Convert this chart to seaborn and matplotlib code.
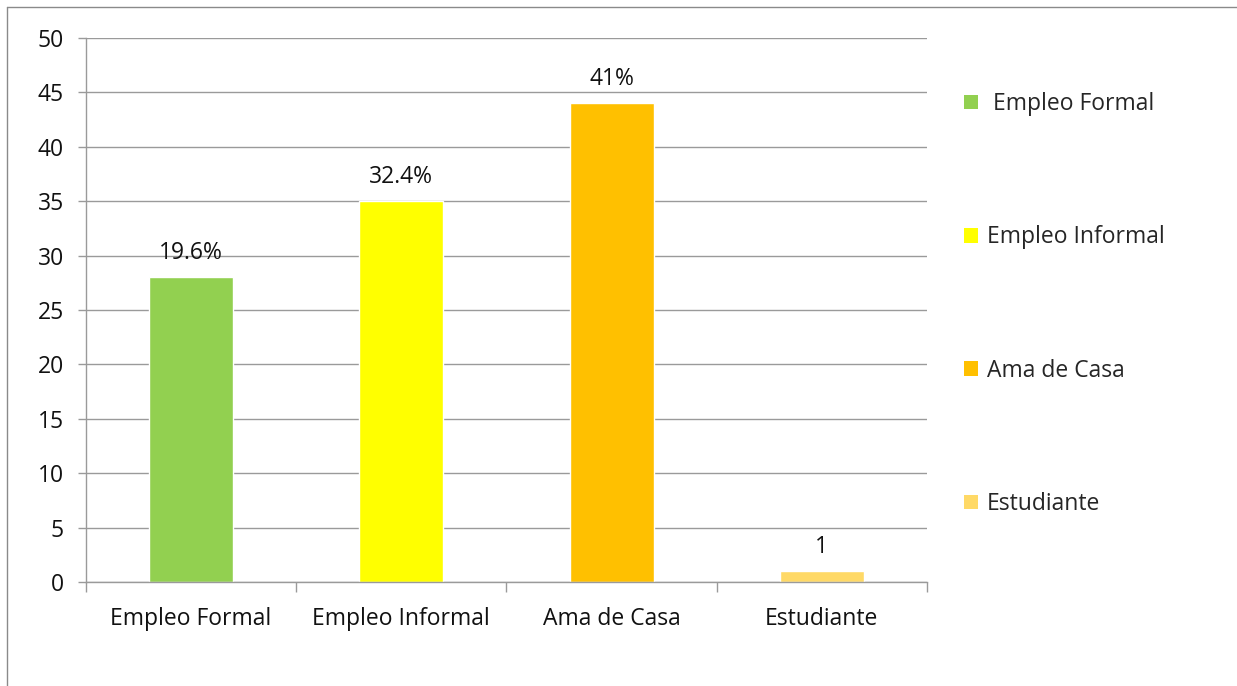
import matplotlib
matplotlib.use("Agg")
import matplotlib.pyplot as plt
from matplotlib.patches import Patch
from matplotlib.lines import Line2D
import seaborn as sns
import pandas as pd

categories = ["Empleo Formal", "Empleo Informal", "Ama de Casa", "Estudiante"]
values = [28, 35, 44, 1]
bar_labels = ["19.6%", "32.4%", "41%", "1"]
legend_labels = [" Empleo Formal", "Empleo Informal", "Ama de Casa", "Estudiante"]
colors = ["#92D050", "#FFFF00", "#FFC000", "#FFD966"]
y_ticks = [0, 5, 10, 15, 20, 25, 30, 35, 40, 45, 50]

sns.set_theme(style="white")
plt.rcParams["font.family"] = ["Open Sans", "DejaVu Sans"]
FS = 16.5

df = pd.DataFrame({"categoria": categories, "valor": values})

fig = plt.figure(figsize=(12.37, 6.86), dpi=100)
ax = fig.add_axes([0.0695, 0.1516, 0.6799, 0.793])

sns.barplot(data=df, x="categoria", y="valor", hue="categoria",
            palette=colors, order=categories, hue_order=categories,
            width=0.4, dodge=False, legend=False, ax=ax, saturation=1)

ax.set_xlim(-0.5, len(categories) - 0.5)
ax.set_ylim(0, 50)
ax.set_yticks(y_ticks)
ax.set_xlabel("")
ax.set_ylabel("")

grid_c = "#9a9a9a"
ax.yaxis.grid(True, color=grid_c, linewidth=1.0)
ax.set_axisbelow(True)
for s in ["top", "right"]:
    ax.spines[s].set_visible(False)
for s in ["left", "bottom"]:
    ax.spines[s].set_color(grid_c)
    ax.spines[s].set_linewidth(1.0)

ax.tick_params(axis="y", which="major", left=True, length=6, width=1,
               color=grid_c, labelsize=FS, labelcolor="#111111", pad=10)
ax.tick_params(axis="x", which="major", bottom=False, length=0,
               labelsize=FS, labelcolor="#111111", pad=18)
ax.set_xticks([i - 0.5 for i in range(len(categories) + 1)], minor=True)
ax.tick_params(axis="x", which="minor", bottom=True, length=7, width=1,
               color=grid_c)

for i, (v, lab) in enumerate(zip(values, bar_labels)):
    ax.annotate(lab, xy=(i, v), xytext=(0, 9), textcoords="offset points",
                ha="center", va="bottom", fontsize=FS, color="#111111")

handles = [Patch(facecolor=c, edgecolor="none") for c in colors]
fig.legend(handles, legend_labels, loc="upper left",
           bbox_to_anchor=(0.772, 0.879), frameon=False, fontsize=FS,
           handlelength=0.6, handleheight=0.6, handletextpad=0.4,
           labelspacing=4.77, borderaxespad=0)

frame_c = "#8a8a8a"
fig.add_artist(Line2D([7 / 1237, 7 / 1237], [0, 1 - 7 / 686],
                      transform=fig.transFigure, color=frame_c, linewidth=1))
fig.add_artist(Line2D([7 / 1237, 1], [1 - 7 / 686, 1 - 7 / 686],
                      transform=fig.transFigure, color=frame_c, linewidth=1))

fig.savefig("out.png", dpi=100, facecolor="white")
